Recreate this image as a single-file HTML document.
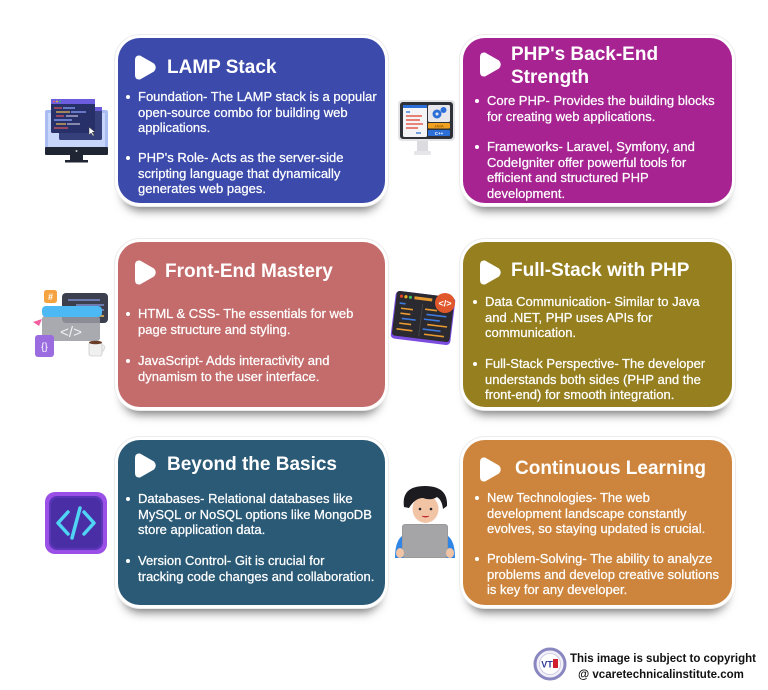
<!DOCTYPE html>
<html><head><meta charset="utf-8">
<style>
*{margin:0;padding:0;box-sizing:border-box}
html,body{width:768px;height:690px;background:#fff;overflow:hidden}
body{position:relative;font-family:"Liberation Sans",sans-serif;color:#fff}
.card{position:absolute;border-radius:22px;box-shadow:0 0 0 3px #fff,0 0 0 4px #ececec,0 12px 10px -5px rgba(0,0,0,0.55)}
.h{position:absolute;font-weight:bold;font-size:19px;line-height:23px;white-space:nowrap}
.p{position:absolute;font-size:13px;line-height:15.5px;white-space:nowrap;-webkit-text-stroke:0.25px #fff}
.p::before{content:"";position:absolute;left:-12px;top:6px;width:4px;height:4px;border-radius:50%;background:#fff}
.play{position:absolute;width:22px;height:25px}
svg{position:absolute;overflow:visible}
.cp{position:absolute;font-weight:bold;font-size:11.5px;color:#111;white-space:nowrap;line-height:16px}
</style></head><body>

<div class="card" style="left:118px;top:38px;width:267px;height:165px;background:#3b4aab"></div>
<div class="card" style="left:463px;top:38px;width:269px;height:165px;background:#a62391"></div>
<div class="card" style="left:118px;top:242px;width:267px;height:165px;background:#c46c6c"></div>
<div class="card" style="left:463px;top:242px;width:269px;height:165px;background:#957f1f"></div>
<div class="card" style="left:118px;top:440px;width:267px;height:165px;background:#2b5a77"></div>
<div class="card" style="left:463px;top:440px;width:269px;height:165px;background:#cd853d"></div>

<svg class="play" style="left:135px;top:55px" width="22" height="25" viewBox="0 0 22 25"><path d="M5 0.5Q0 0 0 5V20Q0 25 5 24.5L19 16.5Q22.5 12.5 19 8.5Z" fill="#fff"/></svg>
<svg class="play" style="left:480px;top:52px" width="22" height="25" viewBox="0 0 22 25"><path d="M5 0.5Q0 0 0 5V20Q0 25 5 24.5L19 16.5Q22.5 12.5 19 8.5Z" fill="#fff"/></svg>
<svg class="play" style="left:135px;top:260px" width="22" height="25" viewBox="0 0 22 25"><path d="M5 0.5Q0 0 0 5V20Q0 25 5 24.5L19 16.5Q22.5 12.5 19 8.5Z" fill="#fff"/></svg>
<svg class="play" style="left:480px;top:260px" width="22" height="25" viewBox="0 0 22 25"><path d="M5 0.5Q0 0 0 5V20Q0 25 5 24.5L19 16.5Q22.5 12.5 19 8.5Z" fill="#fff"/></svg>
<svg class="play" style="left:135px;top:453px" width="22" height="25" viewBox="0 0 22 25"><path d="M5 0.5Q0 0 0 5V20Q0 25 5 24.5L19 16.5Q22.5 12.5 19 8.5Z" fill="#fff"/></svg>
<svg class="play" style="left:480px;top:457px" width="22" height="25" viewBox="0 0 22 25"><path d="M5 0.5Q0 0 0 5V20Q0 25 5 24.5L19 16.5Q22.5 12.5 19 8.5Z" fill="#fff"/></svg>

<div class="h" style="left:167px;top:56px">LAMP Stack</div>
<div class="h" style="left:511px;top:43px">PHP's Back-End<br>Strength</div>
<div class="h" style="left:165px;top:260px">Front-End Mastery</div>
<div class="h" style="left:511px;top:259px">Full-Stack with PHP</div>
<div class="h" style="left:167px;top:453px">Beyond the Basics</div>
<div class="h" style="left:515px;top:457px">Continuous Learning</div>

<div class="p" style="left:138px;top:89px">Foundation- The LAMP stack is a popular<br>open-source combo for building web<br>applications.</div>
<div class="p" style="left:138px;top:150px">PHP's Role- Acts as the server-side<br>scripting language that dynamically<br>generates web pages.</div>

<div class="p" style="left:487px;top:93px">Core PHP- Provides the building blocks<br>for creating web applications.</div>
<div class="p" style="left:487px;top:139px">Frameworks- Laravel, Symfony, and<br>CodeIgniter offer powerful tools for<br>efficient and structured PHP<br>development.</div>

<div class="p" style="left:138px;top:306px">HTML &amp; CSS- The essentials for web<br>page structure and styling.</div>
<div class="p" style="left:138px;top:353px">JavaScript- Adds interactivity and<br>dynamism to the user interface.</div>

<div class="p" style="left:485px;top:294px">Data Communication- Similar to Java<br>and .NET, PHP uses APIs for<br>communication.</div>
<div class="p" style="left:485px;top:356px">Full-Stack Perspective- The developer<br>understands both sides (PHP and the<br>front-end) for smooth integration.</div>

<div class="p" style="left:138px;top:491px">Databases- Relational databases like<br>MySQL or NoSQL options like MongoDB<br>store application data.</div>
<div class="p" style="left:138px;top:553px">Version Control- Git is crucial for<br>tracking code changes and collaboration.</div>

<div class="p" style="left:487px;top:490px">New Technologies- The web<br>development landscape constantly<br>evolves, so staying updated is crucial.</div>
<div class="p" style="left:487px;top:551px">Problem-Solving- The ability to analyze<br>problems and develop creative solutions<br>is key for any developer.</div>

<svg style="left:0;top:0" width="768" height="690">
  <rect x="45" y="110" width="63" height="40" rx="2" fill="#a9bdf2"/>
  <rect x="48" y="113" width="57" height="34" fill="#c7d5fb"/>
  <rect x="45" y="147" width="63" height="8" rx="1" fill="#1f2533"/>
  <circle cx="76.5" cy="151" r="1" fill="#ccc"/>
  <rect x="70" y="155" width="13" height="6" fill="#1f2533"/>
  <rect x="65" y="160" width="23" height="2.5" fill="#1f2533"/>
  <rect x="59" y="107" width="43" height="33" rx="1.5" fill="#35407a"/>
  <rect x="59" y="107" width="43" height="4" fill="#6a5ad8"/>
  <rect x="51" y="99" width="44" height="34" rx="1.5" fill="#28306a"/>
  <rect x="51" y="99" width="44" height="5" fill="#6c5ce0"/>
  <circle cx="54" cy="101.5" r="0.9" fill="#ff5f57"/><circle cx="57" cy="101.5" r="0.9" fill="#ffbd2e"/><circle cx="60" cy="101.5" r="0.9" fill="#28c840"/>
  <g stroke-width="1.2">
    <line x1="54" y1="108" x2="62" y2="108" stroke="#e05a5a"/><line x1="63" y1="108" x2="75" y2="108" stroke="#8fa8ff"/>
    <line x1="56" y1="112" x2="70" y2="112" stroke="#f0c050"/><line x1="71" y1="112" x2="86" y2="112" stroke="#8fa8ff"/>
    <line x1="56" y1="116" x2="64" y2="116" stroke="#e05a5a"/><line x1="66" y1="116" x2="78" y2="116" stroke="#c4c4e0"/>
    <line x1="54" y1="120" x2="72" y2="120" stroke="#8fa8ff"/>
    <line x1="56" y1="124" x2="66" y2="124" stroke="#f0c050"/><line x1="67" y1="124" x2="80" y2="124" stroke="#c4c4e0"/>
    <line x1="54" y1="128" x2="68" y2="128" stroke="#e05a5a"/>
  </g>
  <path d="M89 127 l0 8 l2 -2 l2 3 l1.2 -0.7 l-2 -3 l3 0 z" fill="#fff" stroke="#333" stroke-width="0.5"/>

  <rect x="398" y="100" width="57" height="41" rx="4" fill="#e4e4e6"/>
  <rect x="400" y="102" width="53" height="37" rx="3" fill="#2e3238"/>
  <rect x="403" y="105" width="24" height="32" rx="1.5" fill="#f4f4f6"/>
  <rect x="403" y="105" width="24" height="3" fill="#2d6fd8"/>
  <g stroke-width="1.3">
    <line x1="406" y1="112" x2="410" y2="112" stroke="#2d6fd8"/>
    <line x1="406" y1="116" x2="422" y2="116" stroke="#e0402c"/>
    <line x1="406" y1="120" x2="420" y2="120" stroke="#e0402c"/>
    <line x1="406" y1="124" x2="423" y2="124" stroke="#e0402c"/>
    <line x1="406" y1="128" x2="418" y2="128" stroke="#e0402c"/>
    <line x1="416" y1="133" x2="421" y2="133" stroke="#2d6fd8"/>
  </g>
  <rect x="428" y="105" width="22" height="17" rx="1.5" fill="#e8e8ec"/>
  <circle cx="437" cy="114" r="4.5" fill="#2d6fd8"/><circle cx="443.5" cy="110" r="3" fill="#2d6fd8"/><circle cx="437" cy="114" r="1.5" fill="#e8e8ec"/>
  <rect x="428" y="123" width="22" height="5.5" rx="1" fill="#f0a020"/>
  <text x="439" y="127.5" font-size="4" fill="#7a4a00" text-anchor="middle" font-family="Liberation Sans">JAVA</text>
  <rect x="428" y="130" width="22" height="6" rx="1" fill="#2d6fd8"/>
  <text x="439" y="134.8" font-size="4.5" fill="#fff" text-anchor="middle" font-family="Liberation Sans" font-weight="bold">C++</text>
  <rect x="417" y="141" width="11" height="11" fill="#dcdce0"/>
  <rect x="414" y="151" width="17" height="4" rx="1" fill="#e6e6ea"/>

  <rect x="62" y="293" width="46" height="30" rx="4" fill="#3b3f4e"/>
  <line x1="68" y1="300" x2="100" y2="300" stroke="#7f8fd0" stroke-width="1.5"/>
  <line x1="76" y1="305" x2="104" y2="305" stroke="#7f8fd0" stroke-width="1.5"/>
  <line x1="82" y1="310" x2="104" y2="310" stroke="#7f8fd0" stroke-width="1.5"/>
  <line x1="86" y1="316" x2="104" y2="316" stroke="#f0c050" stroke-width="1.5"/>
  <rect x="42" y="316" width="58" height="25" rx="3" fill="#9a9aa2" opacity="0.85"/>
  <rect x="42" y="306" width="60" height="11" rx="4" fill="#4cb8f4"/>
  <text x="71" y="337" font-size="15" fill="#f2f2f2" text-anchor="middle" font-family="Liberation Sans">&lt;/&gt;</text>
  <rect x="44" y="290" width="13" height="13" rx="2.5" fill="#f4a340"/>
  <text x="50.5" y="300" font-size="9" fill="#fff" text-anchor="middle" font-family="Liberation Sans" font-weight="bold">#</text>
  <rect x="35" y="335" width="19" height="22" rx="3" fill="#9b6ce0"/>
  <text x="44.5" y="350" font-size="10" fill="#fff" text-anchor="middle" font-family="Liberation Sans">{}</text>
  <path d="M33 322 l9 -3 l-3 7 z" fill="#f25fa0"/>
  <rect x="89" y="342" width="13" height="14" rx="2" fill="#f0f0f0" stroke="#bbb" stroke-width="0.6"/>
  <ellipse cx="95.5" cy="342.5" rx="6.5" ry="1.8" fill="#6b3e2a"/>
  <path d="M102 345 q5 1 0 7" fill="none" stroke="#ddd" stroke-width="1.6"/>

  <g transform="rotate(7 423 318)">
    <rect x="393" y="294" width="60" height="48" rx="4" fill="#7b4ce0"/>
    <rect x="394" y="294" width="58" height="45" rx="3" fill="#2a2a30"/>
    <circle cx="399" cy="299" r="1.6" fill="#e0402c"/><circle cx="403.5" cy="299" r="1.6" fill="#f0b020"/><circle cx="408" cy="299" r="1.6" fill="#3cc060"/>
    <rect x="412" y="297.5" width="18" height="3" fill="#e89a30"/>
    <line x1="421" y1="304" x2="421" y2="337" stroke="#444" stroke-width="1"/>
    <g stroke-width="1.6">
      <line x1="398" y1="306" x2="404" y2="306" stroke="#3d7ae0"/>
      <line x1="400" y1="311" x2="412" y2="311" stroke="#e89a30"/>
      <line x1="400" y1="316" x2="410" y2="316" stroke="#e89a30"/>
      <line x1="402" y1="321" x2="416" y2="321" stroke="#3d7ae0"/>
      <line x1="400" y1="326" x2="412" y2="326" stroke="#e89a30"/>
      <line x1="398" y1="332" x2="414" y2="332" stroke="#e89a30"/>
      <line x1="424" y1="309" x2="436" y2="309" stroke="#e89a30"/>
      <line x1="426" y1="314" x2="446" y2="314" stroke="#3d7ae0"/>
      <line x1="424" y1="319" x2="440" y2="319" stroke="#3d7ae0"/>
      <line x1="428" y1="324" x2="448" y2="324" stroke="#e89a30"/>
      <line x1="424" y1="329" x2="442" y2="329" stroke="#3d7ae0"/>
      <line x1="426" y1="334" x2="446" y2="334" stroke="#e89a30"/>
    </g>
  </g>
  <circle cx="445" cy="303" r="10" fill="#e0572c"/>
  <text x="445" y="306.5" font-size="9" fill="#fff" text-anchor="middle" font-family="Liberation Sans" font-weight="bold">&lt;/&gt;</text>

  <rect x="45" y="492" width="62" height="62" rx="10" fill="#9a4fe6"/>
  <rect x="49" y="496" width="54" height="54" rx="8" fill="#5a35b8"/>
  <rect x="51" y="498" width="50" height="50" rx="7" fill="#4a2ea6"/>
  <path d="M68 512 l-10 11 l10 11" fill="none" stroke="#4fd4f4" stroke-width="3.5" stroke-linecap="round" stroke-linejoin="round"/>
  <path d="M84 512 l10 11 l-10 11" fill="none" stroke="#4fd4f4" stroke-width="3.5" stroke-linecap="round" stroke-linejoin="round"/>
  <line x1="80" y1="508" x2="72" y2="538" stroke="#4fd4f4" stroke-width="3.5" stroke-linecap="round"/>

  <path d="M395 558 q0 -22 12 -24 l36 0 q12 2 12 24 z" fill="#2f86e6"/>
  <ellipse cx="425.5" cy="509" rx="13" ry="14" fill="#f2c4a6"/>
  <path d="M404 507 q-3 -21 21 -21 q23 0 22 20 l-4 3 q-1 -9 -6 -12 q-6 4 -14 1 q-8 0 -14 10 z" fill="#1c1c20"/>
  <circle cx="420" cy="509" r="1.3" fill="#222"/><circle cx="431" cy="509" r="1.3" fill="#222"/>
  <path d="M422 516 q3.5 2 7 0" fill="#c0282c" stroke="#c0282c" stroke-width="1"/>
  <rect x="402" y="524" width="46" height="34" rx="3" fill="#9a9a9c"/>
  <rect x="403" y="525" width="44" height="32" rx="2.5" fill="#a5a5a7"/>
  <ellipse cx="400" cy="553" rx="4" ry="5" fill="#f2c4a6"/>
  <ellipse cx="450" cy="553" rx="4" ry="5" fill="#f2c4a6"/>

  <circle cx="550" cy="664" r="15" fill="#f2f0f8" stroke="#8a86c0" stroke-width="3"/>
  <circle cx="550" cy="664" r="10.5" fill="#fff" stroke="#c8c4e0" stroke-width="0.8"/>
  <text x="547" y="667.5" font-size="9" fill="#2a3a9a" text-anchor="middle" font-family="Liberation Sans" font-weight="bold">VT</text>
  <rect x="553" y="659" width="5" height="9" fill="#d02030"/>
</svg>

<div class="cp" style="left:570px;top:651px">This image is subject to copyright</div>
<div class="cp" style="left:578px;top:667px">@ vcaretechnicalinstitute.com</div>

</body></html>
